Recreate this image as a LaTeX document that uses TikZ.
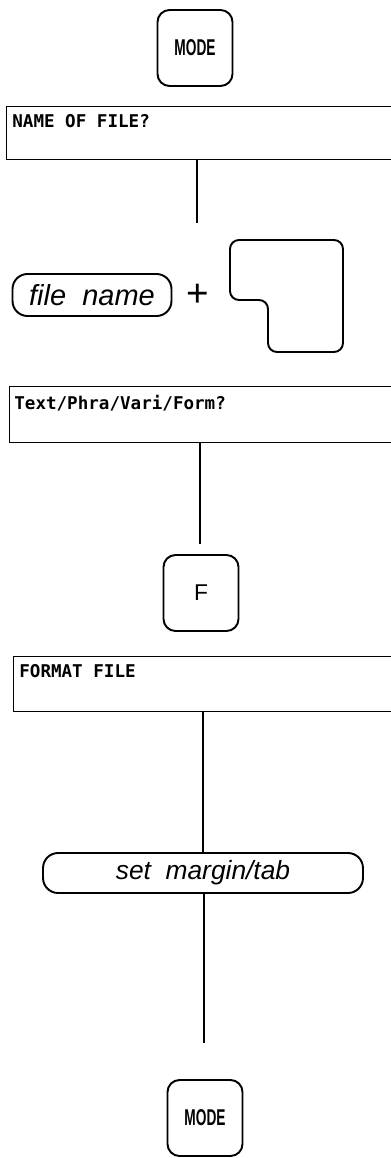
\documentclass[tikz,border=0pt]{standalone}
\usepackage{fontspec}
\setsansfont{Liberation Sans}
\newfontfamily\screenfont{DejaVu Sans Mono}
\usetikzlibrary{positioning}

\newcommand{\keytext}[1]{\scalebox{0.6}[1]{#1}}

\tikzset{
  key/.style={draw, line width=1.1pt, rounded corners=0.24cm, minimum width=1.5cm,
    minimum height=1.52cm, inner sep=0pt, font=\sffamily\bfseries\fontsize{13}{13}\selectfont},
  keyline/.style={line width=1.1pt, rounded corners=0.18cm},
  screen/.style={draw, line width=0.6pt, anchor=north west, minimum width=8cm, inner sep=0pt},
  prompt/.style={anchor=north west, inner sep=0pt,
    font=\screenfont\bfseries\fontsize{10}{10}\selectfont},
  entry/.style={draw, line width=1.1pt, rounded corners=0.3cm, inner sep=0pt,
    font=\sffamily\itshape\fontsize{15}{15}\selectfont},
  link/.style={line width=0.6pt},
}

\begin{document}
\begin{tikzpicture}[x=0.02cm, y=-0.02cm]
\useasboundingbox (0,0) rectangle (391,1158);

% mode key
\node[key] (modetop) at (195,48) {\keytext{MODE}};

% first prompt
\node[screen, minimum height=1.06cm] (namebox) at (6,106) {};
\node[prompt] (nameprompt) at ([xshift=0.12cm, yshift=-0.16cm]namebox.north west) {NAME OF FILE?};
\coordinate (nameend) at (197,223);
\draw[link] (namebox.south -| nameend) -- (nameend);

% file name + return
\node[entry, minimum width=3.18cm, minimum height=0.84cm,
  font=\sffamily\itshape\fontsize{16.5}{16.5}\selectfont] (filename) at (92,295) {file\ \ name};
\node[font=\sffamily\fontsize{22}{22}\selectfont, inner sep=0pt] (plus) at (198,295) {+};
\draw[keyline] (230,240) -- (343,240) -- (343,352) -- (268,352) -- (268,300)
  -- (230,300) -- cycle;

% second prompt
\node[screen, minimum height=1.12cm] (typebox) at (9,386) {};
\node[prompt] (typeprompt) at ([xshift=0.1cm, yshift=-0.18cm]typebox.north west) {Text/Phra/Vari/Form?};
\coordinate (typeend) at (200,544);
\draw[link] (typebox.south -| typeend) -- (typeend);

% F key
\node[key, font=\sffamily\fontsize{13}{13}\selectfont] (fkey) at (201,593) {F};

% format file
\node[screen, minimum height=1.1cm] (formatbox) at (13,656) {};
\node[prompt] (formatprompt) at ([xshift=0.12cm, yshift=-0.16cm]formatbox.north west) {FORMAT FILE};

% set margin/tab
\node[entry, minimum width=6.4cm, minimum height=0.8cm] (margin) at (203,873) {set\ \ margin/tab};
\draw[link] (formatbox.south -| margin.north) -- (margin.north);
\coordinate (marginend) at (204,1043);
\draw[link] (margin.south -| marginend) -- (marginend);

% mode key again
\node[key] (modebottom) at (205,1118) {\keytext{MODE}};
\end{tikzpicture}
\end{document}
